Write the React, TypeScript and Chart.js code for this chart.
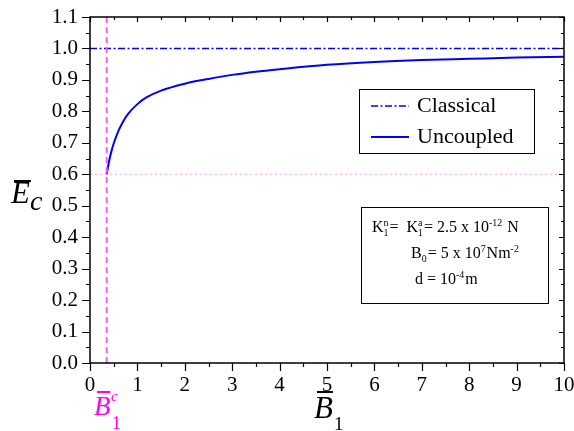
import React, { useEffect, useRef } from "react";
import { Chart, registerables } from "chart.js";
Chart.register(...registerables);

// ---- data ----
const B1 = [0.352, 0.4, 0.45, 0.5, 0.6, 0.7, 0.8, 1.0, 1.2, 1.5, 2, 2.5, 3, 3.5, 4, 5, 6, 7, 8, 9, 10];
const EcUncoupled = [0.6, 0.64, 0.672, 0.698, 0.738, 0.768, 0.791, 0.823, 0.845, 0.866, 0.888, 0.903, 0.916, 0.926, 0.934, 0.948, 0.957, 0.963, 0.967, 0.971, 0.974];
const classicalX = [0, 10];
const classicalY = [1.0, 1.0];
const B1c = 0.352;
const EcAtB1c = 0.6;
const xRange = [0, 10];
const yRange = [0, 1.1];
const legendLabels = ["Classical", "Uncoupled"];

const FONT = '"Liberation Serif", "Times New Roman", serif';

type Part = { t?: string; sub?: string; sup?: string };

function rich(ctx: CanvasRenderingContext2D, x: number, y: number, parts: Part[], size: number) {
  let cx = x;
  const small = size * 0.62;
  for (const p of parts) {
    if (p.t !== undefined) {
      ctx.font = `${size}px ${FONT}`;
      ctx.fillText(p.t, cx, y);
      cx += ctx.measureText(p.t).width;
    } else {
      ctx.font = `${small}px ${FONT}`;
      let w = 0;
      if (p.sub) {
        ctx.fillText(p.sub, cx, y + size * 0.28);
        w = Math.max(w, ctx.measureText(p.sub).width);
      }
      if (p.sup) {
        ctx.fillText(p.sup, cx, y - size * 0.4);
        w = Math.max(w, ctx.measureText(p.sup).width);
      }
      cx += w + 1;
    }
  }
}

const overlay = {
  id: "overlay",
  afterDraw(chart: any) {
    const { ctx, chartArea: ca, scales } = chart;
    const x = scales.x;
    const y = scales.y;
    ctx.save();
    ctx.strokeStyle = "#000";
    ctx.fillStyle = "#000";
    // frame
    ctx.lineWidth = 1.5;
    ctx.strokeRect(ca.left, ca.top, ca.right - ca.left, ca.bottom - ca.top);
    ctx.lineWidth = 1.2;
    ctx.beginPath();
    for (let i = 0; i <= 20; i++) {
      const v = i * 0.5;
      const px = Math.round(x.getPixelForValue(v)) + 0.5;
      const major = i % 2 === 0;
      ctx.moveTo(px, ca.bottom);
      ctx.lineTo(px, ca.bottom + (major ? 8 : 4));
      ctx.moveTo(px, ca.top);
      ctx.lineTo(px, ca.top + (major ? 5 : 3));
    }
    for (let i = 0; i <= 22; i++) {
      const v = i * 0.05;
      const py = Math.round(y.getPixelForValue(v)) + 0.5;
      const major = i % 2 === 0;
      ctx.moveTo(ca.left, py);
      ctx.lineTo(ca.left - (major ? 8 : 4), py);
      ctx.moveTo(ca.right, py);
      ctx.lineTo(ca.right - (major ? 5 : 3), py);
    }
    ctx.stroke();

    // legend
    ctx.lineWidth = 1;
    ctx.strokeRect(359.5, 89.5, 175, 64);
    ctx.strokeStyle = "#0000ff";
    ctx.lineWidth = 1.5;
    ctx.setLineDash([7, 2.5, 2, 2.5]);
    ctx.beginPath();
    ctx.moveTo(371, 106);
    ctx.lineTo(409, 106);
    ctx.stroke();
    ctx.setLineDash([]);
    ctx.lineWidth = 2;
    ctx.beginPath();
    ctx.moveTo(371, 137);
    ctx.lineTo(409, 137);
    ctx.stroke();
    ctx.fillStyle = "#000";
    ctx.font = `22px ${FONT}`;
    ctx.textBaseline = "middle";
    ctx.fillText(legendLabels[0], 417, 106);
    ctx.fillText(legendLabels[1], 417, 137);

    // parameter box
    ctx.textBaseline = "alphabetic";
    ctx.strokeStyle = "#000";
    ctx.lineWidth = 1;
    ctx.strokeRect(361.5, 207.5, 187, 96);
    rich(ctx, 372, 232, [{ t: "K" }, { sub: "1", sup: "n" }, { t: "=  K" }, { sub: "1", sup: "a" }, { t: "= 2.5 x 10" }, { sup: "-12" }, { t: " N" }], 16);
    rich(ctx, 411, 258, [{ t: "B" }, { sub: "0" }, { t: "= 5 x 10" }, { sup: "7" }, { t: "Nm" }, { sup: "-2" }], 16);
    rich(ctx, 415, 284, [{ t: "d = 10" }, { sup: "-4" }, { t: "m" }], 16);

    // y title  E-bar c
    ctx.fillStyle = "#000";
    ctx.strokeStyle = "#000";
    ctx.font = `italic 31px ${FONT}`;
    const ew = ctx.measureText("E").width;
    ctx.fillText("E", 11, 203);
    ctx.lineWidth = 2;
    ctx.beginPath();
    ctx.moveTo(14, 181);
    ctx.lineTo(14 + ew - 2, 181);
    ctx.stroke();
    ctx.font = `italic 28px ${FONT}`;
    ctx.fillText("c", 11 + ew, 210);

    // x title  B-bar 1
    ctx.font = `italic 31px ${FONT}`;
    const bw = ctx.measureText("B").width;
    ctx.fillText("B", 314, 418);
    ctx.beginPath();
    ctx.moveTo(317, 392);
    ctx.lineTo(317 + bw - 3, 392);
    ctx.stroke();
    ctx.font = `19px ${FONT}`;
    ctx.fillText("1", 334, 430);

    // magenta B1c label
    ctx.fillStyle = "#ff00ff";
    ctx.strokeStyle = "#ff00ff";
    ctx.font = `italic 27px ${FONT}`;
    const mw = ctx.measureText("B").width;
    ctx.fillText("B", 94, 415);
    ctx.beginPath();
    ctx.moveTo(97, 392);
    ctx.lineTo(97 + mw - 3, 392);
    ctx.stroke();
    ctx.font = `italic 15px ${FONT}`;
    ctx.fillText("c", 111, 401);
    ctx.font = `18px ${FONT}`;
    ctx.fillText("1", 112, 429);

    ctx.restore();
  },
};

export default function App() {
  const ref = useRef<HTMLCanvasElement | null>(null);
  useEffect(() => {
    document.body.style.margin = "0";
    const canvas = ref.current;
    if (!canvas) return;
    const chart = new Chart(canvas, {
      type: "line",
      data: {
        datasets: [
          {
            label: "B1c marker",
            data: [
              { x: B1c, y: yRange[0] },
              { x: B1c, y: yRange[1] },
            ],
            borderColor: "#ff5cff",
            borderWidth: 2,
            borderDash: [6, 4],
            pointRadius: 0,
          },
          {
            label: "Ec marker",
            data: [
              { x: xRange[0], y: EcAtB1c },
              { x: xRange[1], y: EcAtB1c },
            ],
            borderColor: "#ff99ff",
            borderWidth: 1,
            borderDash: [2, 3],
            pointRadius: 0,
          },
          {
            label: legendLabels[0],
            data: classicalX.map((v, i) => ({ x: v, y: classicalY[i] })),
            borderColor: "#0000ff",
            borderWidth: 1.5,
            borderDash: [7, 2.5, 2, 2.5],
            pointRadius: 0,
          },
          {
            label: legendLabels[1],
            data: B1.map((v, i) => ({ x: v, y: EcUncoupled[i] })),
            borderColor: "#0000ff",
            borderWidth: 2,
            pointRadius: 0,
            cubicInterpolationMode: "monotone",
          },
        ],
      },
      options: {
        responsive: false,
        animation: false,
        events: [],
        layout: { padding: { top: 17, right: 10, left: 0, bottom: 0 } },
        plugins: { legend: { display: false }, tooltip: { enabled: false } },
        scales: {
          x: {
            type: "linear",
            min: xRange[0],
            max: xRange[1],
            grid: { display: false, drawTicks: false },
            border: { display: false },
            ticks: {
              stepSize: 1,
              autoSkip: false,
              maxRotation: 0,
              padding: 10,
              color: "#000",
              font: { family: FONT, size: 21 },
            },
            afterFit: (s: any) => {
              s.height = 68;
              s.paddingLeft = 0;
              s.paddingRight = 0;
            },
          },
          y: {
            type: "linear",
            min: yRange[0],
            max: yRange[1],
            grid: { display: false, drawTicks: false },
            border: { display: false },
            ticks: {
              stepSize: 0.1,
              autoSkip: false,
              padding: 12,
              color: "#000",
              font: { family: FONT, size: 21 },
              callback: (v: any) => Number(v).toFixed(1),
            },
            afterFit: (s: any) => {
              s.width = 90;
              s.paddingTop = 0;
              s.paddingBottom = 0;
            },
          },
        },
      },
      plugins: [overlay],
    });
    return () => chart.destroy();
  }, []);
  return (
    <div style={{ width: 574, height: 431 }}>
      <canvas ref={ref} width={574} height={431} />
    </div>
  );
}
